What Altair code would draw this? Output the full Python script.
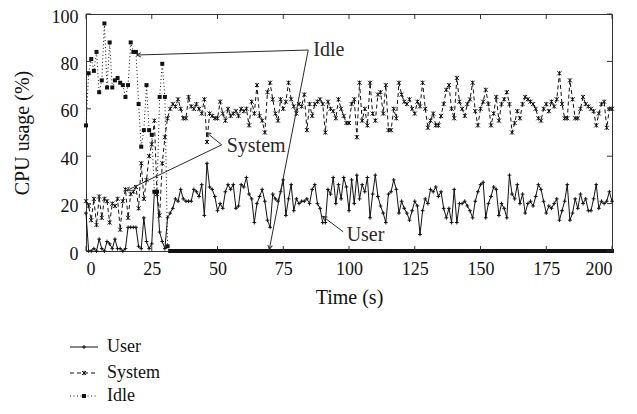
import math
import altair as alt
import pandas as pd

# ---------------- data ----------------
time_s = list(range(0, 201))

user = [
    16, 0, 0, 1, 0, 5, 1, 0, 4, 3,
    1, 5, 1, 1, 0, 1, 10, 10, 10, 10,
    2, 1, 14, 4, 1, 3, 25, 25, 8, 4,
    1, 14, 16, 18, 22, 21, 26, 22, 21, 21,
    21, 26, 25, 23, 28, 15, 37, 27, 26, 23,
    17, 20, 18, 25, 28, 26, 28, 18, 19, 28,
    27, 31, 24, 22, 12, 20, 23, 26, 21, 13,
    10, 24, 22, 21, 25, 30, 15, 22, 28, 17,
    22, 20, 21, 21, 22, 20, 26, 28, 20, 18,
    12, 12, 26, 24, 31, 20, 28, 22, 31, 27,
    17, 30, 20, 32, 22, 28, 25, 31, 14, 24,
    32, 23, 19, 16, 12, 24, 25, 30, 26, 16,
    21, 18, 16, 13, 17, 21, 19, 7, 17, 22,
    20, 26, 25, 27, 23, 25, 18, 14, 18, 12,
    26, 12, 20, 20, 21, 19, 17, 14, 21, 25,
    28, 29, 14, 20, 23, 27, 26, 15, 20, 18,
    14, 32, 24, 22, 28, 20, 24, 16, 20, 21,
    19, 23, 28, 26, 21, 16, 19, 18, 20, 22,
    13, 17, 21, 28, 13, 16, 22, 18, 24, 20,
    22, 17, 17, 22, 28, 18, 21, 20, 21, 25,
    21,
]

system = [
    21, 19, 13, 22, 11, 23, 14, 22, 21, 12,
    20, 19, 22, 9, 21, 26, 14, 24, 25, 27,
    18, 37, 22, 30, 40, 45, 55, 24, 15, 37,
    48, 56, 60, 62, 61, 64, 60, 56, 56, 65,
    61, 60, 62, 60, 58, 64, 46, 58, 57, 56,
    56, 63, 58, 55, 60, 57, 58, 59, 57, 60,
    59, 60, 53, 63, 58, 70, 57, 55, 50, 67,
    71, 64, 58, 55, 64, 60, 63, 71, 64, 61,
    58, 62, 61, 66, 51, 62, 57, 62, 63, 64,
    62, 50, 63, 60, 59, 56, 64, 60, 57, 54,
    54, 62, 64, 48, 71, 55, 60, 53, 71, 58,
    55, 66, 67, 58, 70, 51, 51, 60, 56, 71,
    66, 63, 62, 64, 60, 58, 63, 61, 71, 60,
    52, 55, 58, 53, 53, 57, 62, 68, 70, 60,
    56, 73, 63, 60, 57, 62, 64, 71, 59, 53,
    60, 63, 68, 62, 53, 58, 65, 55, 62, 64,
    67, 62, 50, 54, 59, 56, 62, 65, 64, 63,
    62, 60, 56, 55, 60, 62, 59, 63, 61, 64,
    75, 62, 56, 56, 72, 64, 56, 56, 60, 65,
    62, 61, 60, 59, 53, 58, 62, 63, 52, 60,
    60,
]

idle = [
    53, 75, 81, 76, 84, 67, 72, 96, 69, 88,
    69, 72, 73, 71, 70, 65, 70, 88, 84, 84,
    62, 44, 51, 70, 51, 49, 25, 25, 65, 79,
    65, 2, 0, 0, 0, 0, 0, 0, 0, 0,
    0, 0, 0, 0, 0, 0, 0, 0, 0, 0,
    0, 0, 0, 0, 0, 0, 0, 0, 0, 0,
    0, 0, 0, 0, 0, 0, 0, 0, 0, 0,
    0, 0, 0, 0, 0, 0, 0, 0, 0, 0,
    0, 0, 0, 0, 0, 0, 0, 0, 0, 0,
    0, 0, 0, 0, 0, 0, 0, 0, 0, 0,
    0, 0, 0, 0, 0, 0, 0, 0, 0, 0,
    0, 0, 0, 0, 0, 0, 0, 0, 0, 0,
    0, 0, 0, 0, 0, 0, 0, 0, 0, 0,
    0, 0, 0, 0, 0, 0, 0, 0, 0, 0,
    0, 0, 0, 0, 0, 0, 0, 0, 0, 0,
    0, 0, 0, 0, 0, 0, 0, 0, 0, 0,
    0, 0, 0, 0, 0, 0, 0, 0, 0, 0,
    0, 0, 0, 0, 0, 0, 0, 0, 0, 0,
    0, 0, 0, 0, 0, 0, 0, 0, 0, 0,
    0, 0, 0, 0, 0, 0, 0, 0, 0, 0,
    0,
]

series_names = ["User", "System", "Idle"]
x_ticks = [0, 25, 50, 75, 100, 125, 150, 175, 200]
y_ticks = [0, 20, 40, 60, 80, 100]

# annotations (data units)
ann_labels = ["Idle", "System", "User"]
ann_label_x = [86.4, 53.5, 99.1]
ann_label_y = [84.8, 44.1, 6.7]
arrow_x1 = [84.5, 84.5, 51.6, 51.6, 97.8]
arrow_y1 = [84.8, 84.8, 44.8, 44.8, 8.1]
arrow_x2 = [19.3, 69.7, 45.9, 15.5, 90.0]
arrow_y2 = [82.7, 0.7, 49.9, 25.5, 14.6]

# ---------------- style ----------------
W, H = 526, 237
FONT = "Liberation Serif"
FS_TICK = 18
FS_TITLE = 20
FS_ANN = 20
FS_LEG = 18
INK = "#111111"
FRAME = "#333333"
ANN = "#2a2a2a"

ASTER = "M-1,-1L1,1M-1,1L1,-1M0,-1.1L0,1.1"
PLUS = "M-1,0L1,0M0,-1L0,1"
ARROW = "M-1,-0.55L0,0L-1,0.55"

styles = {
    "User": dict(dash=None, shape=PLUS, size=14, filled=False),
    "System": dict(dash=[4, 3], shape=ASTER, size=16, filled=False),
    "Idle": dict(dash=[1, 2.5], shape="square", size=16, filled=True),
}
data_by_series = {"User": user, "System": system, "Idle": idle}

xscale = alt.Scale(domain=[0, 200], nice=False, zero=False)
yscale = alt.Scale(domain=[0, 100], nice=False, zero=False)

X_AXIS = alt.Axis(values=x_ticks, title="Time (s)", tickSize=0, domain=False,
                  grid=False, labelPadding=9, titlePadding=9, format="d",
                  labelFont=FONT, titleFont=FONT, labelFontSize=FS_TICK, titleFontSize=FS_TITLE,
                  titleFontWeight="normal", labelColor=INK, titleColor=INK)
Y_AXIS = alt.Axis(values=y_ticks, title="CPU usage (%)", tickSize=0, domain=False,
                  grid=False, labelPadding=8, titlePadding=19, format="d", labelOffset=3,
                  labelFont=FONT, titleFont=FONT, labelFontSize=FS_TICK, titleFontSize=FS_TITLE,
                  titleFontWeight="normal", labelColor=INK, titleColor=INK)


def X(field):
    return alt.X(field, scale=xscale, axis=X_AXIS, title="Time (s)")


def Y(field):
    return alt.Y(field, scale=yscale, axis=Y_AXIS, title="CPU usage (%)")


layers = []

for name in series_names:
    st = styles[name]
    sdf = pd.DataFrame({"t": time_s, "v": data_by_series[name]})
    line_kw = dict(color=INK, strokeWidth=1)
    if st["dash"]:
        line_kw["strokeDash"] = st["dash"]
    line = alt.Chart(sdf).mark_line(**line_kw).encode(x=X("t:Q"), y=Y("v:Q"))
    pts = alt.Chart(sdf).mark_point(shape=st["shape"], size=st["size"], filled=st["filled"],
                                    color=INK, strokeWidth=1, opacity=1).encode(
        x=X("t:Q"), y=Y("v:Q"))
    layers += [line, pts]

# inward ticks
xt = pd.DataFrame({"t": x_ticks})
yt = pd.DataFrame({"v": y_ticks})
layers.append(alt.Chart(xt).mark_rule(color=FRAME).encode(
    x=X("t:Q"), y=alt.value(H), y2=alt.value(H - 5)))
layers.append(alt.Chart(xt).mark_rule(color=FRAME).encode(
    x=X("t:Q"), y=alt.value(0), y2=alt.value(5)))
layers.append(alt.Chart(yt).mark_rule(color=FRAME).encode(
    y=Y("v:Q"), x=alt.value(0), x2=alt.value(5)))
layers.append(alt.Chart(yt).mark_rule(color=FRAME).encode(
    y=Y("v:Q"), x=alt.value(W), x2=alt.value(W - 5)))

# annotations
arr = pd.DataFrame({"x1": arrow_x1, "y1": arrow_y1, "x2": arrow_x2, "y2": arrow_y2})
arr["ang"] = [
    math.degrees(math.atan2(-(b2 - b1) * H / 100.0, (a2 - a1) * W / 200.0)) % 360
    for a1, b1, a2, b2 in zip(arrow_x1, arrow_y1, arrow_x2, arrow_y2)
]
layers.append(alt.Chart(arr).mark_rule(color=ANN, strokeWidth=1).encode(
    x=X("x1:Q"), y=Y("y1:Q"), x2="x2:Q", y2="y2:Q"))
layers.append(alt.Chart(arr).mark_point(shape=ARROW, size=70, filled=False, color=ANN,
                                        strokeWidth=1, opacity=1).encode(
    x=X("x2:Q"), y=Y("y2:Q"), angle=alt.Angle("ang:Q", scale=None)))
ann = pd.DataFrame({"label": ann_labels, "x": ann_label_x, "y": ann_label_y})
layers.append(alt.Chart(ann).mark_text(align="left", baseline="middle", font=FONT,
                                       fontSize=FS_ANN, color=ANN).encode(
    x=X("x:Q"), y=Y("y:Q"), text="label:N"))

# custom legend below the plot (pixel offsets from the plot's top-left corner)
legend_rows = {"User": 333, "System": 359, "Idle": 382}
for name in series_names:
    st = styles[name]
    ldf = pd.DataFrame({"series": [name]})
    rule_kw = dict(color=INK, strokeWidth=1)
    if st["dash"]:
        rule_kw["strokeDash"] = st["dash"]
    ry = legend_rows[name]
    layers.append(alt.Chart(ldf).mark_rule(**rule_kw).encode(
        x=alt.value(-16), x2=alt.value(12), y=alt.value(ry)))
    layers.append(alt.Chart(ldf).mark_point(shape=st["shape"], size=st["size"], filled=st["filled"],
                                            color=INK, strokeWidth=1, opacity=1).encode(
        x=alt.value(-2), y=alt.value(ry)))
    layers.append(alt.Chart(ldf).mark_text(align="left", baseline="middle", font=FONT,
                                           fontSize=FS_LEG, color=INK).encode(
        x=alt.value(21), y=alt.value(ry), text="series:N"))

chart = alt.layer(*layers).properties(
    width=W, height=H,
    autosize=alt.AutoSizeParams(type="none"),
    padding={"left": 78, "top": 6, "right": 17, "bottom": 155},
    background="white",
).configure_view(stroke=FRAME, strokeWidth=1).configure_axis(
    titleFontWeight="normal", labelFontWeight="normal")

chart.save("out.html", embed_options={"renderer": "svg", "actions": False})
